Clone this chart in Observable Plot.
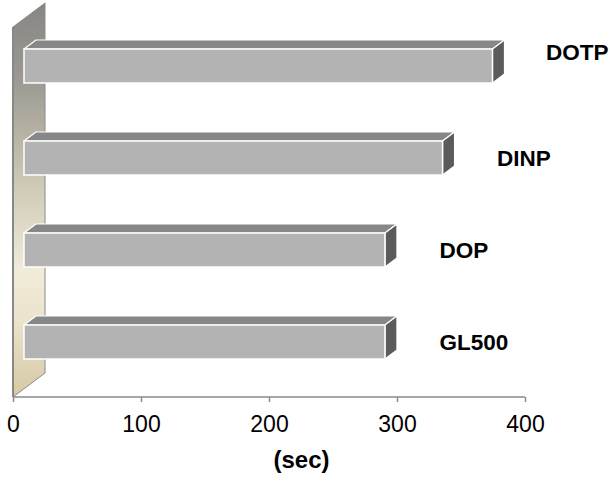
<!DOCTYPE html>
<html><head><meta charset="utf-8">
<script src="https://cdn.jsdelivr.net/npm/d3@7"></script>
<script src="https://cdn.jsdelivr.net/npm/@observablehq/plot@0.6"></script>
<style>body{margin:0;background:#fff;font-family:"Liberation Sans",Arial,sans-serif}</style>
</head><body><div id="chart"></div>
<script>
const categories = ["DOTP", "DINP", "DOP", "GL500"];
const values = [366, 327, 282, 282];
const xTicks = [0, 100, 200, 300, 400];
const axisLabel = "(sec)";
const data = categories.map((c, i) => ({name: c, value: values[i]}));

(function () {
const W = 610, H = 485, MT = 27, MB = 88, ML = 13, MR = 85;
const FX = 11, FY = -8;   // front face offset from front plane
const DX = 12, DY = -9;   // bar depth
const WX = 32, WY = -24;  // wall depth
const font = '"Liberation Sans", Arial, sans-serif';

const plot = Plot.plot({
  width: W, height: H,
  marginLeft: ML, marginRight: MR, marginTop: MT, marginBottom: MB,
  style: {fontFamily: font, fontSize: "23px", background: "white", color: "black"},
  x: {domain: [0, 400], ticks: xTicks, tickSize: 5, tickPadding: 13, label: null},
  y: {domain: categories, axis: null, padding: 0},
  marks: [
    Plot.barX(data, {x: "value", y: "name", fill: "#b3b3b3", stroke: "white", strokeWidth: 1.5,
      insetTop: 29, insetBottom: 29, dx: FX, dy: FY}),
    Plot.text(data.filter(d => d.name !== "DOTP"), {x: "value", y: "name", text: "name", textAnchor: "start",
      dx: FX + DX + 42, dy: FY, fontWeight: "bold", fontSize: 22.5, fill: "black"}),
    Plot.text(data.filter(d => d.name === "DOTP"), {x: "value", y: "name", text: "name", textAnchor: "start",
      dx: FX + DX + 41, dy: FY - 14, fontWeight: "bold", fontSize: 22.5, fill: "black"}),
    Plot.text([axisLabel], {frameAnchor: "bottom", text: d => d, dx: 32, dy: 70,
      fontWeight: "bold", fontSize: 24, fill: "black"})
  ]
});
document.getElementById("chart").appendChild(plot);

const svg = d3.select(plot);
const xs = plot.scale("x");
const xf = xs.apply ? (v => xs.apply(v)) : d3.scaleLinear(xs.domain, xs.range);
const x0 = xf(0), x1 = xf(400), yTop = MT, yBottom = H - MB;

const defs = svg.insert("defs", ":first-child");
const grad = defs.append("linearGradient").attr("id", "wallGrad")
  .attr("x1", 0).attr("y1", 0).attr("x2", 0).attr("y2", 1);
[[0, "#878683"], [0.2, "#9c9a92"], [0.45, "#cdc8b4"], [0.68, "#f1ecda"], [0.8, "#ebe3cb"], [1, "#d6c9a4"]]
  .forEach(([o, c]) => grad.append("stop").attr("offset", o).attr("stop-color", c));

const firstG = plot.querySelector("g");
const back = svg.insert("g", () => firstG);
back.append("polygon")
  .attr("points", [[x0, yTop], [x0 + WX, yTop + WY], [x0 + WX, yBottom + WY], [x0, yBottom]].map(p => p.join(",")).join(" "))
  .attr("fill", "url(#wallGrad)").attr("stroke", "#8a8a8a").attr("stroke-width", 1);
back.append("line").attr("x1", x0).attr("x2", x0).attr("y1", yTop).attr("y2", yBottom)
  .attr("stroke", "#888").attr("stroke-width", 2);

svg.append("line").attr("x1", x0).attr("x2", x1).attr("y1", yBottom).attr("y2", yBottom)
  .attr("stroke", "#8a8a8a").attr("stroke-width", 1.5);
svg.selectAll('g[aria-label="x-axis tick"]').attr("stroke", "#8a8a8a");
svg.selectAll('g[aria-label="x-axis tick"] path, g[aria-label="x-axis tick"] line').attr("stroke", "#8a8a8a").attr("stroke-width", 1.5);

const sb = plot.getBoundingClientRect();
const barG = plot.querySelector('g[aria-label="bar"]');
const faces = svg.insert("g", () => barG);
d3.select(barG).selectAll("rect").each(function () {
  const b = this.getBoundingClientRect();
  const x = b.left - sb.left, y = b.top - sb.top, w = b.width, h = b.height;
  const pts = a => a.map(p => p.join(",")).join(" ");
  faces.append("polygon").attr("points", pts([[x, y], [x + DX, y + DY], [x + w + DX, y + DY], [x + w, y]]))
    .attr("fill", "#878787").attr("stroke", "white").attr("stroke-width", 1.2).attr("stroke-linejoin", "round");
  faces.append("polygon").attr("points", pts([[x + w, y], [x + w + DX, y + DY], [x + w + DX, y + h + DY], [x + w, y + h]]))
    .attr("fill", "#5b5b5b").attr("stroke", "white").attr("stroke-width", 1.2).attr("stroke-linejoin", "round");
});
})();
</script>
</body></html>
